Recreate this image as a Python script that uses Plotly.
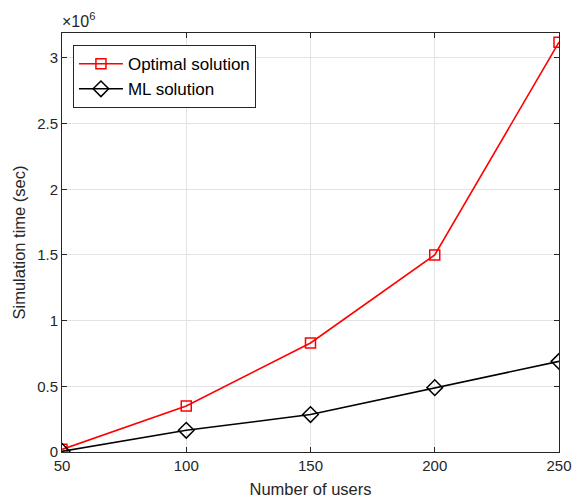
import plotly.graph_objects as go

users = [50, 100, 150, 200, 250]
optimal = [0.02e6, 0.35e6, 0.83e6, 1.50e6, 3.12e6]
ml = [0.005e6, 0.165e6, 0.285e6, 0.49e6, 0.69e6]
ytick_vals = [0, 0.5e6, 1e6, 1.5e6, 2e6, 2.5e6, 3e6]
ytick_text = ["0", "0.5", "1", "1.5", "2", "2.5", "3"]
xtick_vals = [50, 100, 150, 200, 250]

font_family = "Liberation Sans, Arial, sans-serif"
axis_col = "#262626"

fig = go.Figure()
fig.add_trace(go.Scatter(
    x=users, y=optimal, mode="lines+markers", name="Optimal solution",
    line=dict(color="#ff0000", width=1.6),
    marker=dict(symbol="square-open", size=10, color="#ff0000", line=dict(width=1.5)),
))
fig.add_trace(go.Scatter(
    x=users, y=ml, mode="lines+markers", name="ML solution",
    line=dict(color="#000000", width=1.6),
    marker=dict(symbol="diamond-open", size=12, color="#000000", line=dict(width=1.5)),
))

axis_common = dict(
    showline=True, linecolor=axis_col, linewidth=1, mirror="allticks",
    ticks="inside", ticklen=5, tickcolor=axis_col,
    showgrid=True, gridcolor="#e3e3e3", gridwidth=1, zeroline=False,
    tickfont=dict(family=font_family, size=15, color=axis_col),
    automargin=False,
)

fig.update_xaxes(
    range=[50, 250], tickvals=xtick_vals,
    title=dict(text="Number of users", font=dict(family=font_family, size=16.5, color=axis_col), standoff=10),
    **axis_common,
)
fig.update_yaxes(
    range=[0, 3.19e6], tickvals=ytick_vals, ticktext=ytick_text,
    title=dict(text="Simulation time (sec)", font=dict(family=font_family, size=16.5, color=axis_col), standoff=7),
    **axis_common,
)

fig.add_annotation(
    text="×10<sup>6</sup>", xref="paper", yref="paper", x=0, y=1,
    xanchor="left", yanchor="bottom", showarrow=False,
    font=dict(family=font_family, size=16, color=axis_col), yshift=1, xshift=-2,
)

fig.update_layout(
    width=573, height=500,
    margin=dict(l=62, r=14, t=33, b=48),
    paper_bgcolor="white", plot_bgcolor="white",
    showlegend=True,
    legend=dict(
        x=0.022, y=0.971, xanchor="left", yanchor="top",
        bgcolor="white", bordercolor=axis_col, borderwidth=1,
        font=dict(family=font_family, size=17, color="#000000"),
        itemwidth=44, tracegroupgap=0,
    ),
    font=dict(family=font_family),
)

fig.write_html(
    "out.html",
    config={"displayModeBar": False},
    post_script="document.body.style.margin='0';document.body.style.overflow='hidden';",
)
